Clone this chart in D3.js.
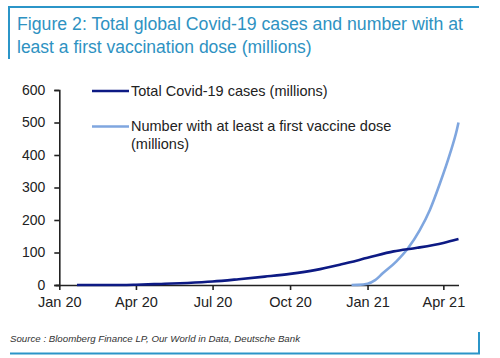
<!DOCTYPE html>
<html><head><meta charset="utf-8">
<script src="https://cdn.jsdelivr.net/npm/d3@7"></script>
<style>
html,body{margin:0;padding:0;background:#fff;}
svg{display:block;font-family:"Liberation Sans",Arial,sans-serif;}
</style></head>
<body><svg id="c" width="500" height="358"></svg>
<script>
const title1 = "Figure 2: Total global Covid-19 cases and number with at";
const title2 = "least a first vaccination dose (millions)";
const sourceText = "Source : Bloomberg Finance LP, Our World in Data, Deutsche Bank";
const seriesNames = ["Total Covid-19 cases (millions)", "Number with at least a first vaccine dose", "(millions)"];

const caseDates = ["2020-01-22","2020-02-15","2020-03-15","2020-04-01","2020-05-01","2020-06-01","2020-07-01","2020-08-01","2020-09-01","2020-10-01","2020-11-01","2020-12-01","2021-01-01","2021-02-01","2021-03-01","2021-04-01","2021-04-19"];
const caseValues = [0.0006,0.07,0.17,0.93,3.3,6.3,10.6,17.7,25.7,34.2,46.5,63.8,83.6,103.5,114.5,129.5,141.5];

const vacDates = ["2020-12-13","2020-12-20","2021-01-01","2021-01-10","2021-01-19","2021-02-04","2021-02-18","2021-03-04","2021-03-16","2021-03-28","2021-04-09","2021-04-17","2021-04-19"];
const vacValues = [0,0.5,4,15,36,72,113,169,231,313,405,477,500];

const xTickDates = ["2020-01-01","2020-04-01","2020-07-01","2020-10-01","2021-01-01","2021-04-01"];
const xTickLabels = ["Jan 20","Apr 20","Jul 20","Oct 20","Jan 21","Apr 21"];
const yTicks = [0,100,200,300,400,500,600];

const parse = d3.utcParse("%Y-%m-%d");
const svg = d3.select("#c");
const frame = "#2b95c8";

// frame
svg.append("line").attr("x1",9).attr("x2",479).attr("y1",7).attr("y2",7).attr("stroke",frame).attr("stroke-width",2);
svg.append("line").attr("x1",9).attr("x2",9).attr("y1",6).attr("y2",59).attr("stroke",frame).attr("stroke-width",2);
svg.append("line").attr("x1",10).attr("x2",480).attr("y1",353.5).attr("y2",353.5).attr("stroke",frame).attr("stroke-width",2);
svg.append("line").attr("x1",479).attr("x2",479).attr("y1",332).attr("y2",354).attr("stroke",frame).attr("stroke-width",2);

svg.append("text").attr("x",17).attr("y",30).attr("font-size",17.5).attr("fill","#2e92c2").attr("textLength",446).attr("lengthAdjust","spacingAndGlyphs").text(title1);
svg.append("text").attr("x",17).attr("y",53).attr("font-size",17.5).attr("fill","#2e92c2").text(title2);

svg.append("text").attr("x",10).attr("y",341.5).attr("font-size",9.5).attr("font-style","italic").attr("fill","#333").attr("textLength",290).attr("lengthAdjust","spacingAndGlyphs").text(sourceText);

const x = d3.scaleUtc().domain([parse("2020-01-01"), parse("2021-04-19")]).range([59.3, 458.5]);
const y = d3.scaleLinear().domain([0,600]).range([285,90]);

const axisColor = "#222";
const yAxis = svg.append("g").attr("transform","translate(59.3,0)")
  .call(d3.axisLeft(y).tickValues(yTicks).tickSize(5).tickPadding(9));
const xAxis = svg.append("g").attr("transform","translate(0,285)")
  .call(d3.axisBottom(x).tickValues(xTickDates.map(parse)).tickFormat((d,i)=>xTickLabels[i]).tickSize(5).tickPadding(7));
[yAxis,xAxis].forEach(g=>{
  g.selectAll("path,line").attr("stroke",axisColor).attr("stroke-width",1.6);
  g.selectAll("text").attr("font-size",14.5).attr("fill","#222").attr("font-family","Liberation Sans, Arial, sans-serif");
});
xAxis.select("path").attr("d","M56,0.5H459");
yAxis.selectAll("text").attr("font-size",14);

const line = d3.line().x(d=>x(d[0])).y(d=>y(d[1])).curve(d3.curveMonotoneX);
const cases = caseDates.map((d,i)=>[parse(d),caseValues[i]]);
const vac = vacDates.map((d,i)=>[parse(d),vacValues[i]]);

svg.append("path").datum(vac).attr("d",line).attr("fill","none").attr("stroke","#7fa6df").attr("stroke-width",2.6);
svg.append("path").datum(cases).attr("d",line).attr("fill","none").attr("stroke","#0d1a84").attr("stroke-width",2.6);

// legend
svg.append("line").attr("x1",92).attr("x2",129).attr("y1",91).attr("y2",91).attr("stroke","#0d1a84").attr("stroke-width",2.6);
svg.append("line").attr("x1",92).attr("x2",129).attr("y1",126.5).attr("y2",126.5).attr("stroke","#7fa6df").attr("stroke-width",2.6);
svg.append("text").attr("x",131).attr("y",96).attr("font-size",14.5).attr("fill","#222").text(seriesNames[0]);
svg.append("text").attr("x",131).attr("y",131).attr("font-size",14.5).attr("fill","#222").text(seriesNames[1]);
svg.append("text").attr("x",131).attr("y",148.5).attr("font-size",14.5).attr("fill","#222").text(seriesNames[2]);
</script></body></html>
